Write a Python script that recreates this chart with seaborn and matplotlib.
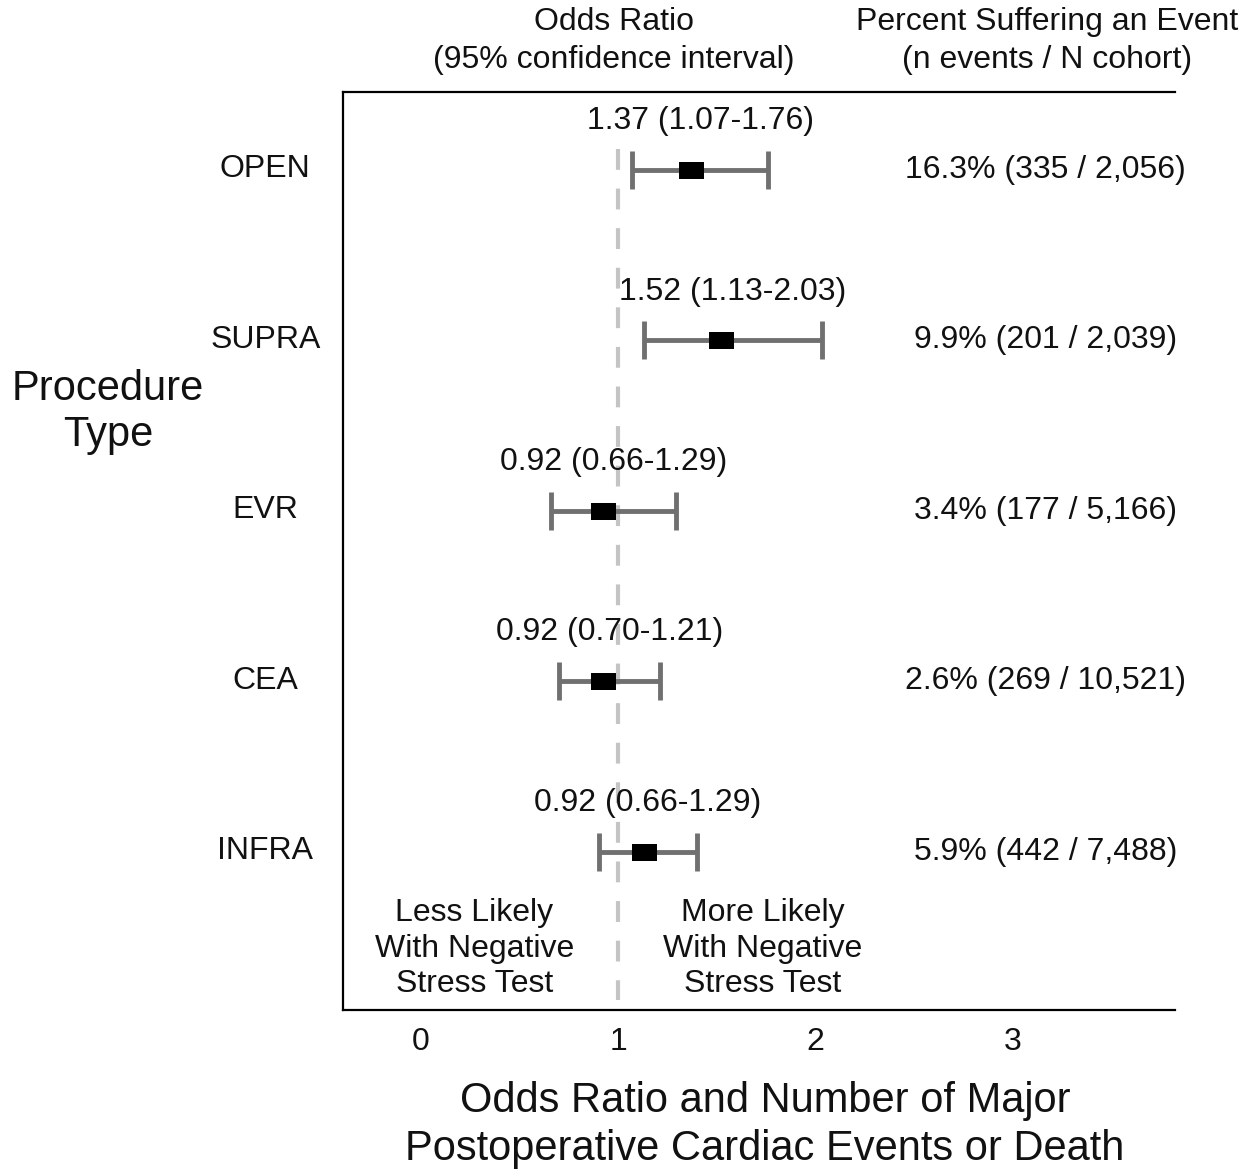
import pandas as pd
import matplotlib
matplotlib.use("Agg")
import matplotlib.pyplot as plt
import matplotlib.transforms as mtransforms
import seaborn as sns

# --- Datos ---
procedures = ["OPEN", "SUPRA", "EVR", "CEA", "INFRA"]
odds_ratio = [1.37, 1.52, 0.92, 0.92, 1.13]
ci_low = [1.07, 1.13, 0.66, 0.70, 0.90]
ci_high = [1.76, 2.03, 1.29, 1.21, 1.40]
or_labels = ["1.37 (1.07-1.76)", "1.52 (1.13-2.03)", "0.92 (0.66-1.29)",
             "0.92 (0.70-1.21)", "0.92 (0.66-1.29)"]
event_labels = ["16.3% (335 / 2,056)", "9.9% (201 / 2,039)", "3.4% (177 / 5,166)",
                "2.6% (269 / 10,521)", "5.9% (442 / 7,488)"]
x_ticks = [0, 1, 2, 3]

df = pd.DataFrame({"procedure": procedures, "or": odds_ratio,
                   "lo": ci_low, "hi": ci_high})
df["pos"] = range(len(df))

sns.set_theme(style="white")
plt.rcParams["font.family"] = ["Liberation Sans", "DejaVu Sans"]

GREY = "#707070"
TXT = "#111111"
FS = 23

fig = plt.figure(figsize=(12.47, 11.71), dpi=100)
ax = fig.add_axes([343 / 1247, 1 - 1010 / 1171, 832 / 1247, 918 / 1171])

# Barras de intervalo de confianza
ax.errorbar(df["or"], df["pos"],
            xerr=[df["or"] - df["lo"], df["hi"] - df["or"]],
            fmt="none", ecolor=GREY, elinewidth=3.5, capsize=14,
            capthick=3.5, zorder=2)

# Marcador rectangular (odds ratio)
rect = [(-1.25, -0.85), (1.25, -0.85), (1.25, 0.85), (-1.25, 0.85), (-1.25, -0.85)]
sns.scatterplot(data=df, x="or", y="pos", marker=rect, s=18 ** 2,
                color="black", edgecolor="black", linewidth=0, ax=ax, zorder=3)

# Linea de referencia en OR = 1
ax.vlines(1, -0.12, 4.87, colors="#c4c4c4", linewidth=3,
          linestyles=(0, (5, 4.5)), zorder=1)

# Etiquetas de OR sobre cada barra
for _, r in df.iterrows():
    ax.annotate(or_labels[r["pos"]], xy=((r["lo"] + r["hi"]) / 2, r["pos"]),
                xytext=(0, 35), textcoords="offset points",
                ha="center", va="center", fontsize=FS, color=TXT)

# Porcentajes a la derecha
trans = mtransforms.blended_transform_factory(ax.transAxes, ax.transData)
for i, lab in enumerate(event_labels):
    ax.text(0.844, i, lab, transform=trans, ha="center", va="center",
            fontsize=FS, color=TXT)

# Textos inferiores
ax.text(0.27, 4.57, "Less Likely\nWith Negative\nStress Test", ha="center",
        va="center", fontsize=FS, linespacing=1.25, color=TXT)
ax.text(1.73, 4.57, "More Likely\nWith Negative\nStress Test", ha="center",
        va="center", fontsize=FS, linespacing=1.25, color=TXT)

# Ejes
ax.set_xlim(-0.395, 3.82)
ax.set_ylim(4.93, -0.457)
ax.set_xticks(x_ticks)
ax.set_xticklabels([str(t) for t in x_ticks], fontsize=FS, color=TXT)
ax.set_yticks(df["pos"])
ax.set_yticklabels(procedures, fontsize=FS, color=TXT, ha="center")
ax.tick_params(axis="x", length=0, pad=12)
ax.tick_params(axis="y", length=0, pad=56)
for lab in ax.get_yticklabels():
    lab.set_transform(lab.get_transform() +
                      mtransforms.ScaledTranslation(0, 0.04, fig.dpi_scale_trans))
ax.set_ylabel("")
ax.set_xlabel("Odds Ratio and Number of Major\nPostoperative Cardiac Events or Death",
              fontsize=30, linespacing=1.28, color=TXT)
ax.xaxis.set_label_coords(0.507, -0.077)
ax.xaxis.label.set_va("top")

for side in ["left", "top", "bottom"]:
    ax.spines[side].set_visible(True)
    ax.spines[side].set_color("black")
    ax.spines[side].set_linewidth(1.6)
ax.spines["right"].set_visible(False)

# Encabezados
fig.text(614 / 1247, 1 - 41 / 1171, "Odds Ratio\n(95% confidence interval)",
         ha="center", va="center", fontsize=FS, linespacing=1.35, color=TXT)
fig.text(1047 / 1247, 1 - 41 / 1171, "Percent Suffering an Event\n(n events / N cohort)",
         ha="center", va="center", fontsize=FS, linespacing=1.35, color=TXT)
fig.text(108 / 1247, 1 - 412 / 1171, "Procedure\nType", ha="center", va="center",
         fontsize=30, linespacing=1.2, color=TXT)

fig.savefig("out.png", dpi=100)
